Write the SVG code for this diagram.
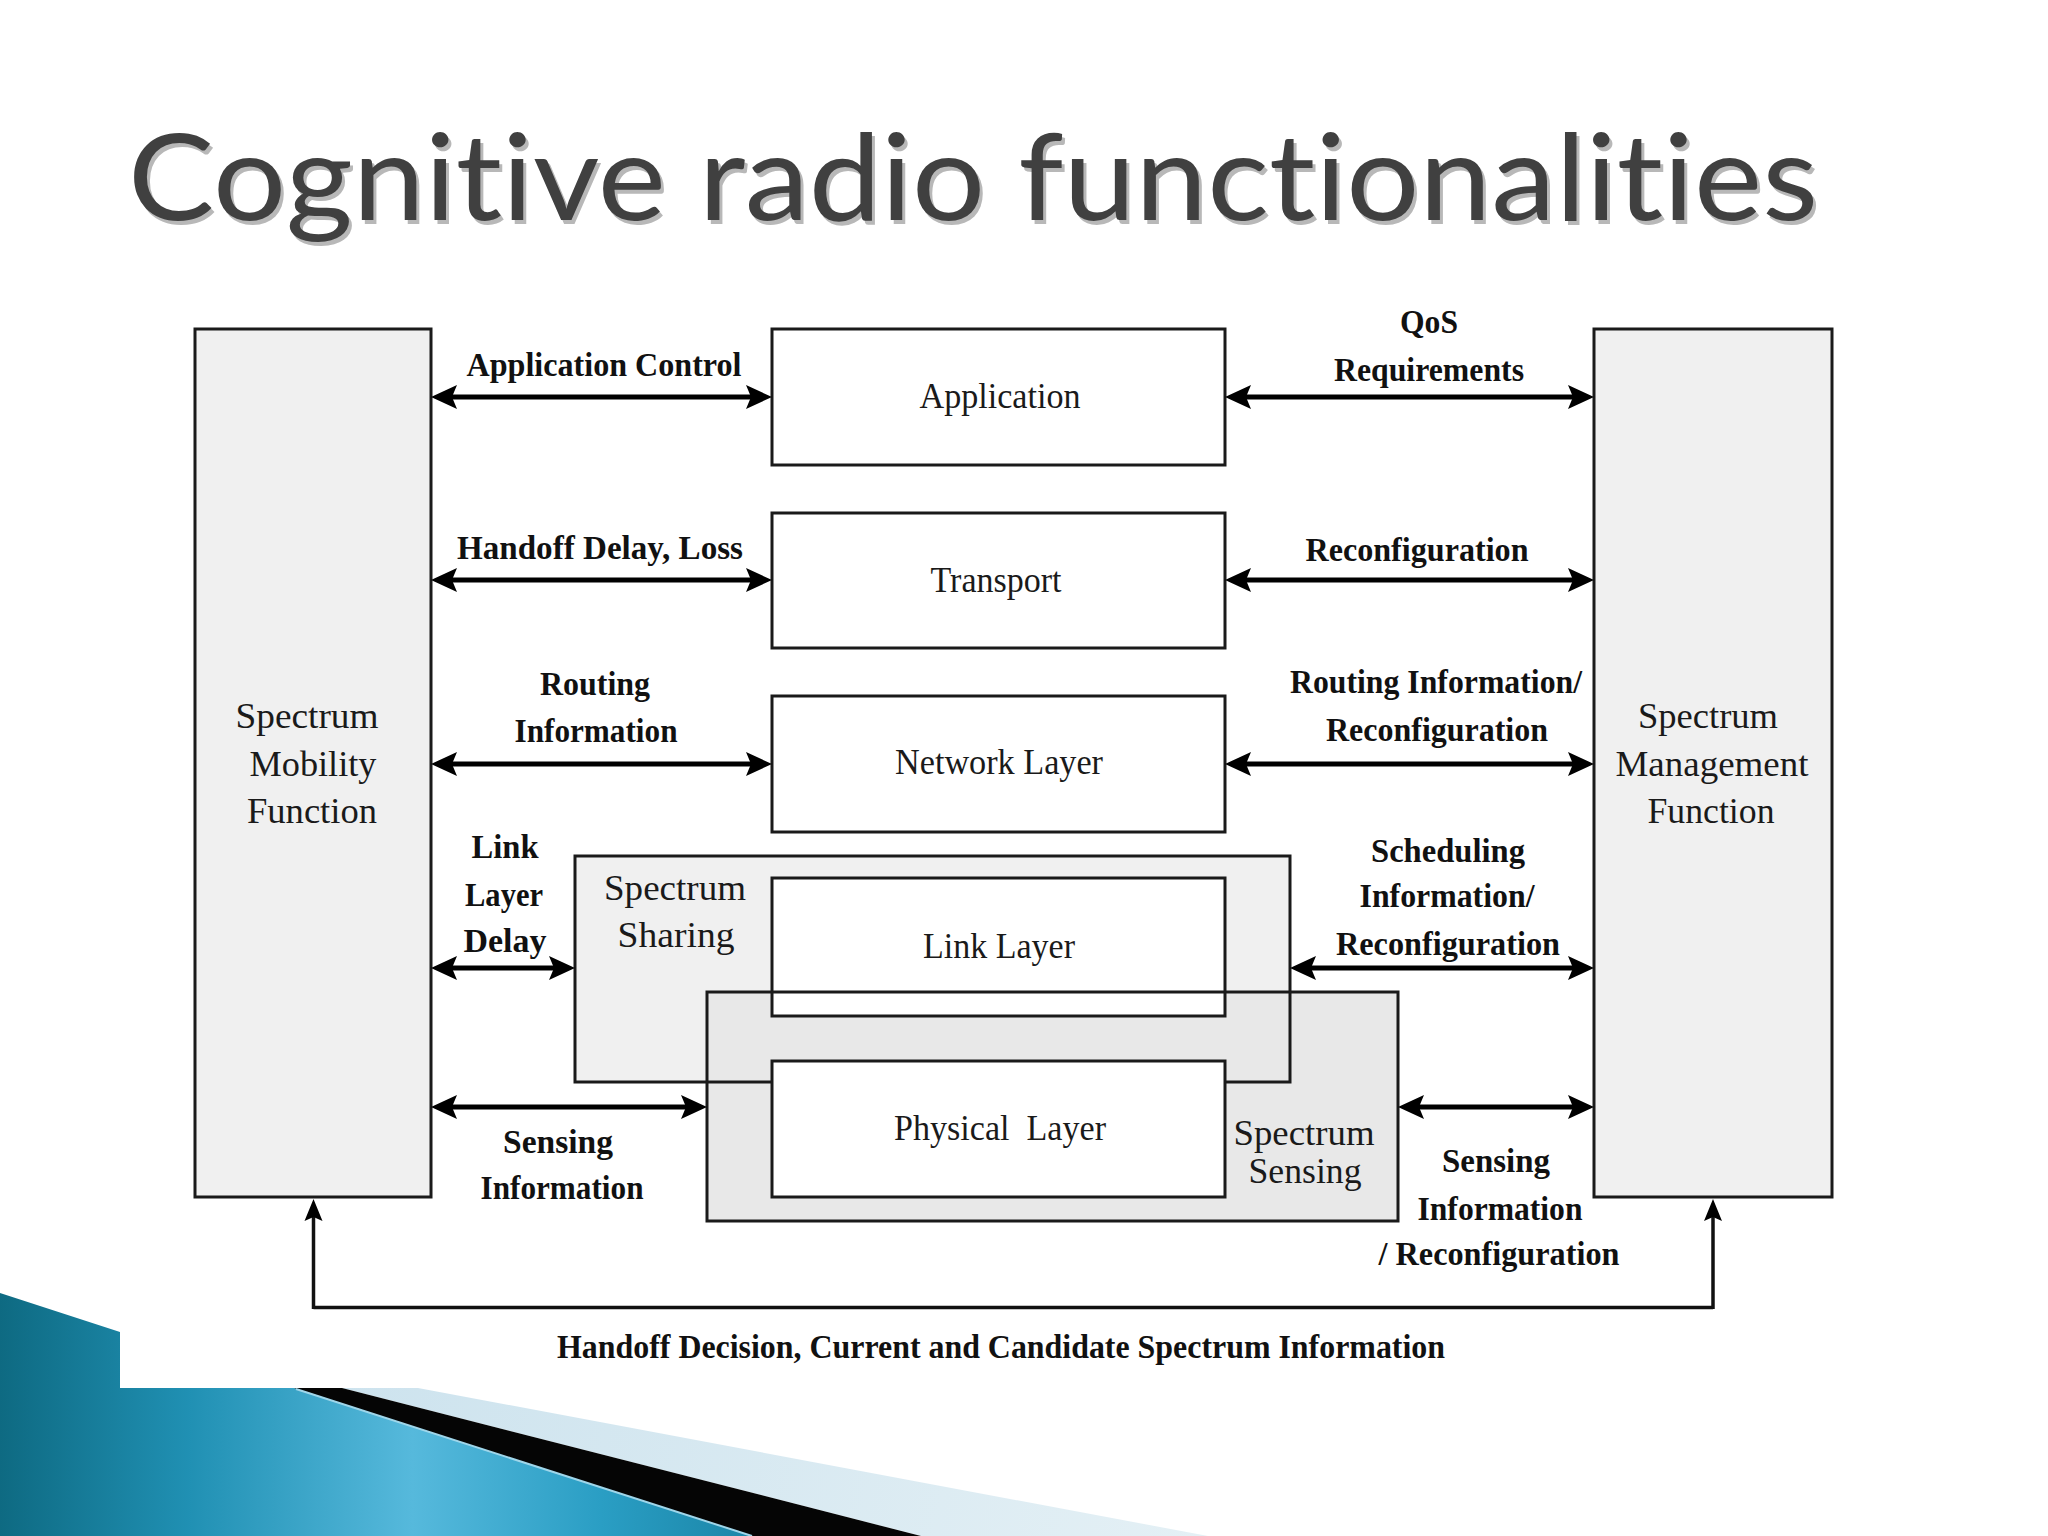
<svg xmlns="http://www.w3.org/2000/svg" width="2048" height="1536" viewBox="0 0 2048 1536">
<defs>
  <linearGradient id="teal" x1="0" y1="0" x2="751" y2="0" gradientUnits="userSpaceOnUse">
    <stop offset="0" stop-color="#0e6a82"/>
    <stop offset="0.25" stop-color="#2090b3"/>
    <stop offset="0.55" stop-color="#56b9dc"/>
    <stop offset="0.8" stop-color="#2a9ec4"/>
    <stop offset="1" stop-color="#1b86a8"/>
  </linearGradient>
  <linearGradient id="pale" x1="342" y1="1388" x2="1208" y2="1536" gradientUnits="userSpaceOnUse">
    <stop offset="0" stop-color="#cde3ee"/>
    <stop offset="1" stop-color="#e4f0f5"/>
  </linearGradient>
  <marker id="ah" viewBox="0 0 26 26" markerWidth="26" markerHeight="26" refX="16" refY="13" orient="auto-start-reverse" markerUnits="userSpaceOnUse">
    <path d="M0,1 L26,13 L0,25 L5,13 Z" fill="#000"/>
  </marker>
  <marker id="ahs" viewBox="0 0 22 20" markerWidth="22" markerHeight="20" refX="12" refY="10" orient="auto" markerUnits="userSpaceOnUse">
    <path d="M0,1 L22,10 L0,19 L4,10 Z" fill="#000"/>
  </marker>
</defs>
<style>
  .box{fill:#ffffff;stroke:#1a1a1a;stroke-width:3}
  .gbox{fill:#f0f0f0;stroke:#1a1a1a;stroke-width:3}
  .fillonly{stroke:none}
  .outline{fill:none;stroke:#1a1a1a;stroke-width:3}
  .lbl{font-family:"Liberation Serif","Times New Roman",serif;font-size:34px;font-weight:bold;fill:#111;text-anchor:middle}
  .nl{font-family:"Liberation Serif","Times New Roman",serif;font-size:35px;fill:#1a1a1a;text-anchor:middle}
  .arr{stroke:#000;stroke-width:5;fill:none;marker-start:url(#ah);marker-end:url(#ah)}
  .fb{stroke:#111;stroke-width:3.5;fill:none}
  .title{font-family:Lato,"Open Sans",sans-serif;font-size:121px;font-variant-ligatures:none;font-feature-settings:"liga" 0,"clig" 0,"dlig" 0}
</style>
<rect x="0" y="0" width="2048" height="1536" fill="#ffffff"/>

<!-- decoration -->
<g id="decoration">
  <polygon points="0,1293 120,1332 120,1388 294,1388 751,1536 0,1536" fill="url(#teal)"/>
  <polygon points="342,1388 418,1388 1208,1536 921,1536" fill="url(#pale)"/>
  <polygon points="294,1388 342,1388 921,1536 751,1536" fill="#050505"/>
  <line x1="296" y1="1389" x2="752" y2="1536" stroke="#9fd6ea" stroke-width="2"/>
</g>

<!-- title -->
<g id="title">
  <text class="title" x="131" y="224" textLength="1690" lengthAdjust="spacingAndGlyphs" fill="#b8b8b8">Cognitive radio functionalities</text>
  <text class="title" x="128" y="220" textLength="1690" lengthAdjust="spacingAndGlyphs" fill="#404040">Cognitive radio functionalities</text>
</g>

<!-- nodes -->
<g id="spectrum-mobility-function">
  <rect class="gbox" x="195" y="329" width="236" height="868"/>
  <text class="nl" x="307" y="728" textLength="143" lengthAdjust="spacingAndGlyphs">Spectrum</text>
  <text class="nl" x="313" y="776" textLength="127" lengthAdjust="spacingAndGlyphs">Mobility</text>
  <text class="nl" x="312" y="823" textLength="130" lengthAdjust="spacingAndGlyphs">Function</text>
</g>
<g id="spectrum-management-function">
  <rect class="gbox" x="1594" y="329" width="238" height="868"/>
  <text class="nl" x="1708" y="728" textLength="140" lengthAdjust="spacingAndGlyphs">Spectrum</text>
  <text class="nl" x="1712" y="776" textLength="193" lengthAdjust="spacingAndGlyphs">Management</text>
  <text class="nl" x="1711" y="823" textLength="127" lengthAdjust="spacingAndGlyphs">Function</text>
</g>
<g id="application">
  <rect class="box" x="772" y="329" width="453" height="136"/>
  <text class="nl" x="1000" y="408" textLength="161" lengthAdjust="spacingAndGlyphs">Application</text>
</g>
<g id="transport">
  <rect class="box" x="772" y="513" width="453" height="135"/>
  <text class="nl" x="996" y="592" textLength="131" lengthAdjust="spacingAndGlyphs">Transport</text>
</g>
<g id="network-layer">
  <rect class="box" x="772" y="696" width="453" height="136"/>
  <text class="nl" x="999" y="774" textLength="208" lengthAdjust="spacingAndGlyphs">Network Layer</text>
</g>
<g id="spectrum-sharing">
  <rect class="gbox fillonly" x="575" y="856" width="715" height="226" fill="#efefef"/>
  <text class="nl" x="675" y="900" textLength="142" lengthAdjust="spacingAndGlyphs">Spectrum</text>
  <text class="nl" x="676" y="947" textLength="117" lengthAdjust="spacingAndGlyphs">Sharing</text>
</g>
<g id="spectrum-sensing">
  <rect class="fillonly" x="707" y="992" width="691" height="229" fill="#e8e8e8"/>
  <text class="nl" x="1304" y="1145" textLength="141" lengthAdjust="spacingAndGlyphs">Spectrum</text>
  <text class="nl" x="1305" y="1183" textLength="113" lengthAdjust="spacingAndGlyphs">Sensing</text>
</g>
<g id="link-layer">
  <rect class="box" x="772" y="878" width="453" height="138"/>
  <text class="nl" x="999" y="958" textLength="152" lengthAdjust="spacingAndGlyphs">Link Layer</text>
</g>
<g id="sharing-sensing-outlines">
  <rect class="outline" x="575" y="856" width="715" height="226"/>
  <rect class="outline" x="707" y="992" width="691" height="229"/>
</g>
<g id="physical-layer">
  <rect class="box" x="772" y="1061" width="453" height="136"/>
  <text class="nl" x="1000" y="1140" textLength="212" lengthAdjust="spacingAndGlyphs" xml:space="preserve">Physical  Layer</text>
</g>

<!-- connectors -->
<g id="connectors">
  <line class="arr" x1="441" y1="397" x2="762" y2="397"/>
  <line class="arr" x1="441" y1="580" x2="762" y2="580"/>
  <line class="arr" x1="441" y1="764" x2="762" y2="764"/>
  <line class="arr" x1="441" y1="968" x2="565" y2="968"/>
  <line class="arr" x1="441" y1="1107" x2="697" y2="1107"/>
  <line class="arr" x1="1235" y1="397" x2="1584" y2="397"/>
  <line class="arr" x1="1235" y1="580" x2="1584" y2="580"/>
  <line class="arr" x1="1235" y1="764" x2="1584" y2="764"/>
  <line class="arr" x1="1300" y1="968" x2="1584" y2="968"/>
  <line class="arr" x1="1408" y1="1107" x2="1584" y2="1107"/>
  <polyline class="fb" points="313.5,1307.5 1713,1307.5"/>
  <line class="fb" x1="313.5" y1="1309" x2="313.5" y2="1209" marker-end="url(#ahs)"/>
  <line class="fb" x1="1713" y1="1309" x2="1713" y2="1209" marker-end="url(#ahs)"/>
</g>

<!-- connector labels -->
<g id="connector-labels">
  <text class="lbl" x="604" y="376" textLength="275" lengthAdjust="spacingAndGlyphs">Application Control</text>
  <text class="lbl" x="600" y="559" textLength="286" lengthAdjust="spacingAndGlyphs">Handoff Delay, Loss</text>
  <text class="lbl" x="595" y="695" textLength="110" lengthAdjust="spacingAndGlyphs">Routing</text>
  <text class="lbl" x="596" y="742" textLength="163" lengthAdjust="spacingAndGlyphs">Information</text>
  <text class="lbl" x="505" y="858" textLength="67" lengthAdjust="spacingAndGlyphs">Link</text>
  <text class="lbl" x="504" y="906" textLength="78" lengthAdjust="spacingAndGlyphs">Layer</text>
  <text class="lbl" x="505" y="952" textLength="83" lengthAdjust="spacingAndGlyphs">Delay</text>
  <text class="lbl" x="558" y="1153" textLength="110" lengthAdjust="spacingAndGlyphs">Sensing</text>
  <text class="lbl" x="562" y="1199" textLength="163" lengthAdjust="spacingAndGlyphs">Information</text>
  <text class="lbl" x="1429" y="333" textLength="58" lengthAdjust="spacingAndGlyphs">QoS</text>
  <text class="lbl" x="1429" y="381" textLength="190" lengthAdjust="spacingAndGlyphs">Requirements</text>
  <text class="lbl" x="1417" y="561" textLength="223" lengthAdjust="spacingAndGlyphs">Reconfiguration</text>
  <text class="lbl" x="1436" y="693" textLength="292" lengthAdjust="spacingAndGlyphs">Routing Information/</text>
  <text class="lbl" x="1437" y="741" textLength="222" lengthAdjust="spacingAndGlyphs">Reconfiguration</text>
  <text class="lbl" x="1448" y="862" textLength="154" lengthAdjust="spacingAndGlyphs">Scheduling</text>
  <text class="lbl" x="1447" y="907" textLength="175" lengthAdjust="spacingAndGlyphs">Information/</text>
  <text class="lbl" x="1448" y="955" textLength="224" lengthAdjust="spacingAndGlyphs">Reconfiguration</text>
  <text class="lbl" x="1496" y="1172" textLength="108" lengthAdjust="spacingAndGlyphs">Sensing</text>
  <text class="lbl" x="1500" y="1220" textLength="165" lengthAdjust="spacingAndGlyphs">Information</text>
  <text class="lbl" x="1499" y="1265" textLength="241" lengthAdjust="spacingAndGlyphs">/ Reconfiguration</text>
  <text class="lbl" x="557" y="1358" textLength="888" lengthAdjust="spacingAndGlyphs" style="text-anchor:start">Handoff Decision, Current and Candidate Spectrum Information</text>
</g>
</svg>
